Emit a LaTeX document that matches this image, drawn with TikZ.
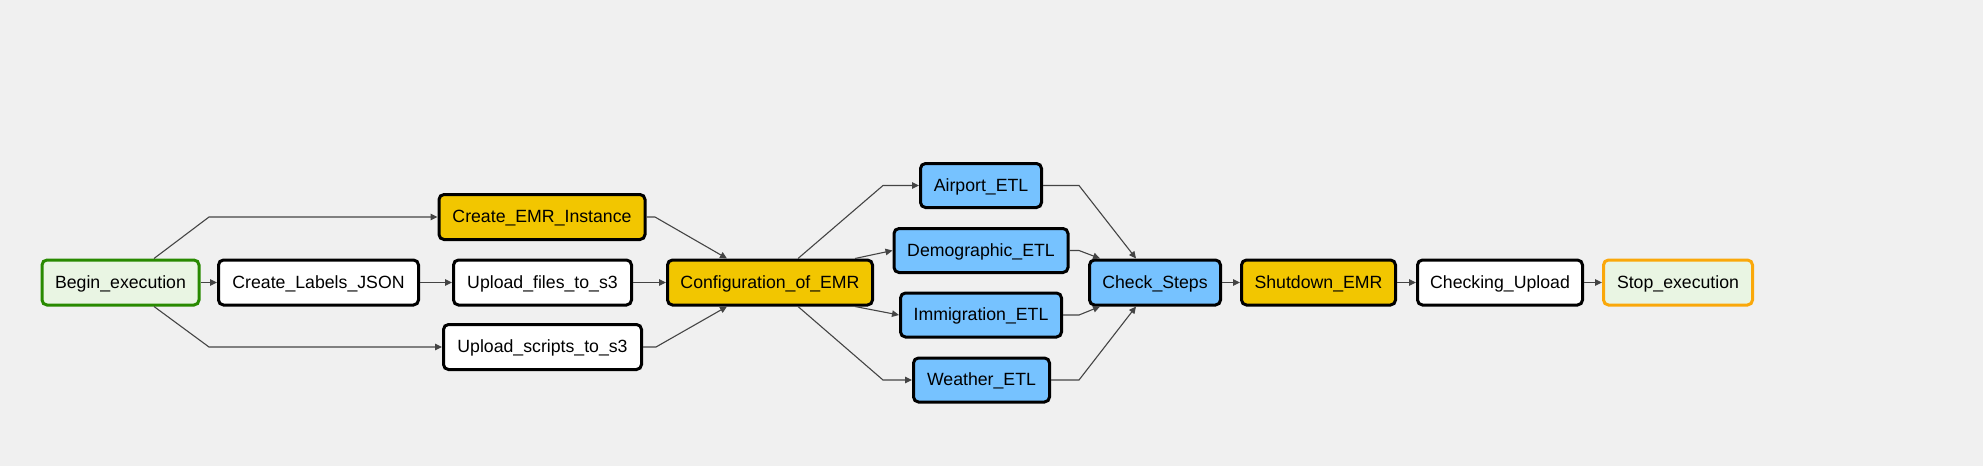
\documentclass[tikz,border=0pt]{standalone}
\usepackage{fontspec}
\setmainfont{Liberation Sans}
\usetikzlibrary{arrows.meta}
\definecolor{bg}{HTML}{F0F0F0}
\definecolor{yel}{HTML}{F2C600}
\definecolor{blu}{HTML}{76C2FF}
\definecolor{lgreen}{HTML}{E9F5E3}
\definecolor{dgreen}{RGB}{40,138,0}
\definecolor{orng}{RGB}{250,168,10}
\definecolor{conncol}{HTML}{444444}
\tikzset{
  task/.style={draw=black, line width=3pt, rounded corners=5pt, minimum height=45pt,
    inner sep=0pt, text height=15.6pt, text depth=3.9pt,
    font=\fontsize{17.7}{20}\selectfont, text=black},
  yeltask/.style={task, fill=yel},
  blutask/.style={task, fill=blu},
  whitask/.style={task, fill=white},
  conn/.style={draw=conncol, line width=1.1pt, -{Triangle[length=7pt,width=6.5pt]}},
}
\begin{document}
\begin{tikzpicture}[x=1pt,y=-1pt]
\fill[bg] (0,0) rectangle (1983,466);
\useasboundingbox (0,0) rectangle (1983,466);

\node[task, draw=dgreen, fill=lgreen, minimum width=157pt] (begin) at (120.5,282.5) {Begin\_execution};
\node[whitask, minimum width=200pt] (labels) at (318.5,282.5) {Create\_Labels\_JSON};
\node[whitask, minimum width=178pt] (ufiles) at (542.5,282.5) {Upload\_files\_to\_s3};
\node[yeltask, minimum width=206pt, minimum height=45pt] (cemr) at (542,217) {Create\_EMR\_Instance};
\node[whitask, minimum width=198pt] (uscripts) at (542.5,347) {Upload\_scripts\_to\_s3};
\node[yeltask, minimum width=205pt] (config) at (770,282.5) {Configuration\_of\_EMR};
\node[blutask, minimum width=121pt, minimum height=44pt] (airport) at (981,185.5) {Airport\_ETL};
\node[blutask, minimum width=174pt, minimum height=44pt] (demo) at (981,250.5) {Demographic\_ETL};
\node[blutask, minimum width=161pt, minimum height=44pt] (immig) at (981,315) {Immigration\_ETL};
\node[blutask, minimum width=136pt, minimum height=44pt] (weather) at (981.5,380) {Weather\_ETL};
\node[blutask, minimum width=131pt] (check) at (1155,282.5) {Check\_Steps};
\node[yeltask, minimum width=154pt] (shutdown) at (1318.5,282.5) {Shutdown\_EMR};
\node[whitask, minimum width=165pt] (checking) at (1500,282.5) {Checking\_Upload};
\node[task, draw=orng, fill=lgreen, minimum width=149pt] (stop) at (1678,282.5) {Stop\_execution};

\draw[conn] ([xshift=33.5pt]begin.north) -- (209,217) -- (cemr.west);
\draw[conn] (begin.east) -- (labels.west);
\draw[conn] ([xshift=33.5pt]begin.south) -- (209,347) -- (uscripts.west);
\draw[conn] (labels.east) -- (ufiles.west);
\draw[conn] (cemr.east) -- (655,217) -- ([xshift=-43pt]config.north);
\draw[conn] (ufiles.east) -- (config.west);
\draw[conn] (uscripts.east) -- (656,347) -- ([xshift=-43pt]config.south);
\draw[conn] ([xshift=28pt]config.north) -- (883,185.5) -- (airport.west);
\draw[conn] ([xshift=85pt]config.north) -- (demo.west);
\draw[conn] ([xshift=85pt]config.south) -- (immig.west);
\draw[conn] ([xshift=28pt]config.south) -- (883,380) -- (weather.west);
\draw[conn] (airport.east) -- (1079,185.5) -- ([xshift=-19pt]check.north);
\draw[conn] (demo.east) -- (1079,250.5) -- ([xshift=-55pt]check.north);
\draw[conn] (immig.east) -- (1079,315) -- ([xshift=-55pt]check.south);
\draw[conn] (weather.east) -- (1079,380) -- ([xshift=-19pt]check.south);
\draw[conn] (check.east) -- (shutdown.west);
\draw[conn] (shutdown.east) -- (checking.west);
\draw[conn] (checking.east) -- (stop.west);
\end{tikzpicture}
\end{document}
